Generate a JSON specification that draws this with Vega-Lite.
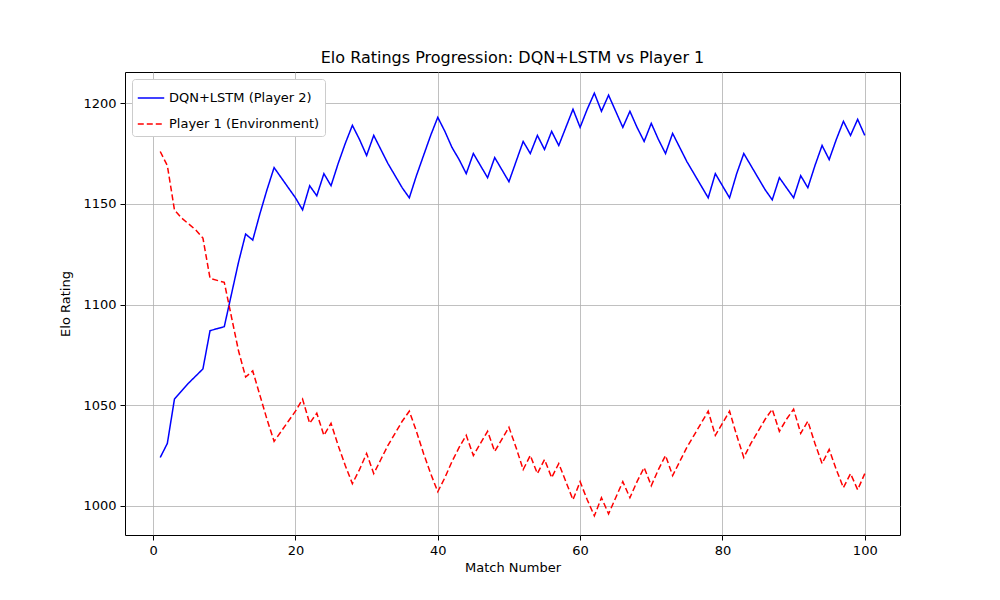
{
  "$schema": "https://vega.github.io/schema/vega-lite/v6.json",
  "width": 775,
  "height": 463,
  "autosize": "none",
  "padding": {"left": 125, "top": 72, "right": 100, "bottom": 65},
  "background": "white",
  "config": {
    "font": "DejaVu Sans",
    "view": {"stroke": "black", "strokeWidth": 1},
    "axis": {"labelFont": "DejaVu Sans", "titleFont": "DejaVu Sans", "labelFontSize": 13, "titleFontSize": 13, "titleFontWeight": "normal", "labelColor": "black", "titleColor": "black", "tickColor": "black", "tickSize": 5, "labelPadding": 4, "domain": false, "gridColor": "#b0b0b0", "gridWidth": 0.8}
  },
  "title": {"text": "Elo Ratings Progression: DQN+LSTM vs Player 1", "fontSize": 16, "fontWeight": "normal", "font": "DejaVu Sans", "offset": 6},
  "data": {"values": [
    {"m":1,"p2":1024,"p1":1176},{"m":2,"p2":1031,"p1":1169},{"m":3,"p2":1053,"p1":1147},{"m":4,"p2":1057,"p1":1143},{"m":5,"p2":1061,"p1":1140},
    {"m":6,"p2":1064.5,"p1":1137},{"m":7,"p2":1068,"p1":1133},{"m":8,"p2":1087,"p1":1113},{"m":9,"p2":1088,"p1":1112},{"m":10,"p2":1089,"p1":1111},
    {"m":11,"p2":1105,"p1":1094},{"m":12,"p2":1121,"p1":1077},{"m":13,"p2":1135,"p1":1064},{"m":14,"p2":1132,"p1":1067},{"m":15,"p2":1145,"p1":1055},
    {"m":16,"p2":1157,"p1":1043},{"m":17,"p2":1168,"p1":1032},{"m":18,"p2":1163,"p1":1037},{"m":19,"p2":1158,"p1":1042},{"m":20,"p2":1153,"p1":1047},
    {"m":21,"p2":1147,"p1":1053},{"m":22,"p2":1159,"p1":1041},{"m":23,"p2":1154,"p1":1046},{"m":24,"p2":1165,"p1":1035},{"m":25,"p2":1159,"p1":1041},
    {"m":26,"p2":1170,"p1":1030},{"m":27,"p2":1180,"p1":1020},{"m":28,"p2":1189,"p1":1011},{"m":29,"p2":1182,"p1":1018},{"m":30,"p2":1174,"p1":1026},
    {"m":31,"p2":1184,"p1":1016},{"m":32,"p2":1177,"p1":1023},{"m":33,"p2":1170,"p1":1030},{"m":34,"p2":1164,"p1":1036},{"m":35,"p2":1158,"p1":1042},
    {"m":36,"p2":1153,"p1":1047},{"m":37,"p2":1164,"p1":1037},{"m":38,"p2":1174,"p1":1026},{"m":39,"p2":1184,"p1":1016},{"m":40,"p2":1193,"p1":1007},
    {"m":41,"p2":1186,"p1":1014},{"m":42,"p2":1178,"p1":1022},{"m":43,"p2":1172,"p1":1029},{"m":44,"p2":1165,"p1":1035},{"m":45,"p2":1175,"p1":1025},
    {"m":46,"p2":1169,"p1":1031},{"m":47,"p2":1163,"p1":1037},{"m":48,"p2":1173,"p1":1027},{"m":49,"p2":1167,"p1":1033},{"m":50,"p2":1161,"p1":1039},
    {"m":51,"p2":1171,"p1":1029},{"m":52,"p2":1181,"p1":1018},{"m":53,"p2":1175,"p1":1025},{"m":54,"p2":1184,"p1":1016},{"m":55,"p2":1177,"p1":1023},
    {"m":56,"p2":1186,"p1":1014},{"m":57,"p2":1179,"p1":1021},{"m":58,"p2":1188,"p1":1012},{"m":59,"p2":1197,"p1":1003},{"m":60,"p2":1188,"p1":1012},
    {"m":61,"p2":1197,"p1":1003},{"m":62,"p2":1205,"p1":995},{"m":63,"p2":1196,"p1":1004},{"m":64,"p2":1204,"p1":996},{"m":65,"p2":1196,"p1":1004},
    {"m":66,"p2":1188,"p1":1012},{"m":67,"p2":1196,"p1":1004},{"m":68,"p2":1188,"p1":1012},{"m":69,"p2":1181,"p1":1019},{"m":70,"p2":1190,"p1":1010},
    {"m":71,"p2":1182,"p1":1018},{"m":72,"p2":1175,"p1":1025},{"m":73,"p2":1185,"p1":1015},{"m":74,"p2":1178,"p1":1022},{"m":75,"p2":1171,"p1":1029},
    {"m":76,"p2":1165,"p1":1035},{"m":77,"p2":1159,"p1":1041},{"m":78,"p2":1153,"p1":1047},{"m":79,"p2":1165,"p1":1035},{"m":80,"p2":1159,"p1":1041},
    {"m":81,"p2":1153,"p1":1047},{"m":82,"p2":1165,"p1":1035},{"m":83,"p2":1175,"p1":1024},{"m":84,"p2":1169,"p1":1031},{"m":85,"p2":1163,"p1":1037},
    {"m":86,"p2":1157,"p1":1043},{"m":87,"p2":1152,"p1":1048},{"m":88,"p2":1163,"p1":1037},{"m":89,"p2":1158,"p1":1043},{"m":90,"p2":1153,"p1":1048},
    {"m":91,"p2":1164,"p1":1036},{"m":92,"p2":1158,"p1":1042},{"m":93,"p2":1169,"p1":1031},{"m":94,"p2":1179,"p1":1021},{"m":95,"p2":1172,"p1":1028},
    {"m":96,"p2":1182,"p1":1018},{"m":97,"p2":1191,"p1":1009},{"m":98,"p2":1184,"p1":1016},{"m":99,"p2":1192,"p1":1008},{"m":100,"p2":1184,"p1":1016}
  ]},
  "transform": [
    {"fold": ["p2", "p1"], "as": ["key", "rating"]},
    {"calculate": "datum.key === 'p2' ? 'DQN+LSTM (Player 2)' : 'Player 1 (Environment)'", "as": "series"}
  ],
  "mark": {"type": "line", "strokeWidth": 1.5},
  "encoding": {
    "x": {"field": "m", "type": "quantitative", "title": "Match Number", "scale": {"domain": [-3.95, 104.95], "nice": false, "zero": false}, "axis": {"values": [0, 20, 40, 60, 80, 100], "format": "d", "titlePadding": 4}},
    "y": {"field": "rating", "type": "quantitative", "title": "Elo Rating", "scale": {"domain": [985.5, 1215.5], "nice": false, "zero": false}, "axis": {"values": [1000, 1050, 1100, 1150, 1200], "format": "d", "titlePadding": 10}},
    "color": {"field": "series", "type": "nominal", "title": null, "scale": {"domain": ["DQN+LSTM (Player 2)", "Player 1 (Environment)"], "range": ["blue", "red"]},
      "legend": {"orient": "top-left", "offset": 7, "labelFontSize": 13, "labelFont": "DejaVu Sans", "labelColor": "black", "symbolType": "stroke", "symbolSize": 700, "symbolStrokeWidth": 1.5, "strokeColor": "#cccccc", "fillColor": "white", "padding": 5, "cornerRadius": 3, "rowPadding": 5}},
    "strokeDash": {"field": "series", "type": "nominal", "scale": {"domain": ["DQN+LSTM (Player 2)", "Player 1 (Environment)"], "range": [[1, 0], [6, 3]]}, "legend": null}
  }
}
